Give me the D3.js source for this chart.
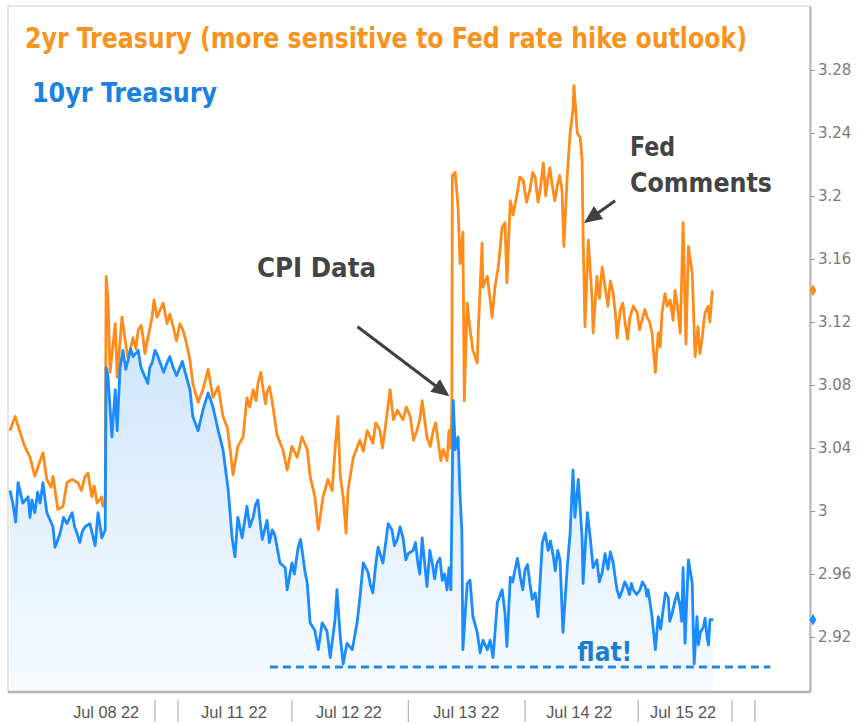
<!DOCTYPE html>
<html>
<head>
<meta charset="utf-8">
<script src="https://cdn.jsdelivr.net/npm/d3@7/dist/d3.min.js"></script>
<style>
  body { margin: 0; background: #fff; }
  svg { display: block; }
</style>
</head>
<body>
<svg id="chart"></svg>
<script>
// [hours since chart start, yield %]
var twoYear = [[0.4,3.051],[1.5,3.060],[2.5,3.050],[3.5,3.041],[4.6,3.034],[5.6,3.022],[6.5,3.030],[7.3,3.037],[8.1,3.020],[9.0,3.015],[9.4,3.022],[10.4,3.001],[11.5,3.003],[12.3,3.018],[13.4,3.020],[14.6,3.018],[15.3,3.013],[16.1,3.022],[16.7,3.024],[17.5,3.009],[18.0,3.016],[18.6,3.005],[19.6,3.009],[19.8,3.003],[20.3,3.005],
  [20.5,3.149],[20.9,3.134],[21.3,3.088],[22.4,3.119],[22.8,3.085],[23.8,3.123],[24.4,3.110],[25.0,3.098],[25.5,3.102],[26.1,3.110],[26.7,3.103],[27.2,3.115],[27.8,3.118],[28.2,3.110],[28.6,3.100],[29.0,3.107],[30.1,3.123],[30.5,3.134],[31.1,3.123],[32.4,3.132],[33.2,3.119],[33.8,3.125],[34.5,3.117],[35.2,3.108],[35.9,3.119],[36.4,3.116],[37.0,3.110],[38.0,3.096],[38.6,3.081],[39.7,3.069],[40.7,3.077],[41.8,3.090],[42.8,3.072],[43.9,3.079],[44.9,3.060],[45.8,3.053],[46.4,3.039],[47.0,3.023],[48.0,3.041],[49.1,3.047],[49.9,3.072],[50.5,3.066],[51.2,3.077],[51.8,3.070],[52.2,3.081],[52.8,3.088],[53.3,3.077],[53.8,3.068],[54.1,3.075],[54.6,3.079],[55.2,3.069],[56.2,3.048],[57.4,3.039],[58.3,3.026],[59.3,3.041],[60.4,3.034],[61.4,3.047],[62.5,3.039],[63.1,3.022],[64.1,3.009],[64.8,2.988],[65.8,3.009],[66.8,3.020],[67.7,3.013],[68.3,3.039],[68.9,3.060],[69.4,3.022],[70.0,3.009],[70.6,2.986],[71.0,3.013],[72.1,3.034],[73.5,3.045],[74.2,3.038],[75.0,3.051],[76.2,3.043],[76.8,3.056],[77.7,3.051],[78.2,3.040],[78.8,3.053],[79.8,3.077],[80.5,3.058],[81.3,3.064],[82.5,3.058],[83.2,3.066],[84.0,3.060],[84.7,3.045],[85.4,3.051],[86.0,3.058],[86.5,3.070],[87.5,3.047],[88.2,3.041],[88.8,3.051],[89.3,3.056],[89.8,3.045],[90.4,3.032],[90.9,3.039],[91.7,3.032],[92.1,3.051],[92.5,3.040],[92.7,3.070],
  [92.8,3.213],[93.4,3.215],[94.0,3.193],[94.4,3.157],[95.0,3.177],[95.3,3.070],[95.9,3.132],[96.5,3.115],[97.1,3.102],[98.0,3.094],[98.2,3.113],[99.0,3.170],[99.2,3.142],[100.1,3.149],[100.7,3.134],[101.1,3.123],[101.7,3.142],[102.4,3.155],[103.2,3.180],[103.8,3.183],[104.2,3.145],[104.9,3.197],[105.5,3.188],[106.3,3.201],[106.9,3.212],[107.6,3.210],[108.3,3.196],[109.0,3.204],[109.6,3.215],[110.1,3.212],[110.7,3.196],[111.2,3.205],[111.8,3.221],[112.3,3.200],[112.8,3.212],[113.2,3.218],[113.6,3.208],[114.2,3.197],[114.7,3.206],[115.2,3.213],[115.7,3.204],[116.1,3.168],[116.8,3.213],[117.4,3.240],[118.0,3.255],[118.2,3.270],[118.9,3.240],[119.5,3.237],[119.9,3.223],[120.1,3.177],[120.5,3.117],[121.2,3.172],[122.0,3.134],[122.2,3.113],[123.0,3.149],[123.5,3.135],[124.1,3.155],[124.7,3.142],[125.3,3.130],[125.8,3.146],[126.4,3.138],[126.9,3.124],[127.2,3.110],[127.9,3.128],[128.4,3.132],[128.9,3.119],[129.4,3.109],[129.9,3.123],[130.6,3.130],[131.4,3.126],[131.9,3.115],[132.4,3.121],[133.0,3.128],[133.5,3.123],[134.0,3.120],[134.5,3.113],[135.2,3.088],[135.8,3.113],[136.2,3.104],[136.6,3.126],[137.2,3.138],[137.7,3.130],[138.3,3.134],[138.9,3.121],[139.3,3.140],[139.8,3.130],[140.4,3.113],[141.0,3.183],[141.6,3.106],[142.1,3.168],[142.9,3.151],[143.5,3.098],[144.1,3.117],[144.5,3.100],[145.0,3.110],[145.3,3.120],[145.6,3.126],[146.2,3.130],[146.6,3.120],[147.1,3.140]]

var tenYear = [[0.4,3.013],[1.0,3.005],[1.6,2.993],[2.1,3.018],[3.1,3.005],[4.2,3.009],[4.6,2.996],[5.0,3.007],[5.6,2.999],[6.2,3.012],[6.7,3.005],[7.3,3.018],[8.1,2.999],[9.4,2.990],[9.8,2.977],[10.2,2.980],[10.9,2.986],[11.6,2.996],[12.3,2.992],[13.4,2.999],[13.9,2.990],[14.4,2.986],[15.0,2.980],[15.5,2.987],[16.1,2.990],[17.1,2.992],[17.8,2.983],[18.2,2.978],[18.8,2.999],[19.6,2.983],[20.3,2.988],
  [20.5,3.091],[20.9,3.085],[21.7,3.047],[22.4,3.077],[22.8,3.051],[23.4,3.091],[24.0,3.102],[24.6,3.090],[25.1,3.096],[25.6,3.103],[26.1,3.098],[27.2,3.102],[27.7,3.092],[28.2,3.088],[29.2,3.081],[29.6,3.091],[30.1,3.094],[30.7,3.102],[31.2,3.099],[31.8,3.094],[32.5,3.088],[33.2,3.094],[33.8,3.098],[34.5,3.091],[35.2,3.086],[35.9,3.091],[36.4,3.095],[37.0,3.088],[38.0,3.077],[38.6,3.060],[39.7,3.051],[40.7,3.064],[41.8,3.075],[42.8,3.066],[43.9,3.051],[44.9,3.039],[46.0,3.013],[46.8,2.983],[47.4,2.971],[48.0,2.996],[48.9,2.983],[49.9,3.003],[50.5,2.990],[51.2,2.996],[51.7,3.004],[52.2,3.007],[52.7,2.992],[53.1,2.982],[54.1,2.994],[54.6,2.980],[55.2,2.988],[55.7,2.985],[56.2,2.977],[56.8,2.967],[57.9,2.964],[58.3,2.950],[59.3,2.967],[59.8,2.960],[60.6,2.977],[61.1,2.982],[61.6,2.971],[62.0,2.962],[62.5,2.954],[63.1,2.929],[64.1,2.924],[64.8,2.912],[65.6,2.929],[66.6,2.924],[67.3,2.907],[68.3,2.931],[68.7,2.950],[69.4,2.920],[70.0,2.903],[70.8,2.916],[71.9,2.912],[72.9,2.929],[73.5,2.945],[74.2,2.967],[75.2,2.961],[75.7,2.953],[76.2,2.948],[76.8,2.966],[77.3,2.977],[78.3,2.967],[78.8,2.978],[79.4,2.992],[80.2,2.988],[80.7,2.978],[81.3,2.982],[81.9,2.990],[82.5,2.983],[83.1,2.969],[83.6,2.973],[84.6,2.975],[85.1,2.980],[85.6,2.967],[86.0,2.960],[86.5,2.983],[87.5,2.952],[88.1,2.975],[88.6,2.967],[89.1,2.957],[89.6,2.967],[90.2,2.970],[90.7,2.956],[91.2,2.960],[91.7,2.950],[92.1,2.964],[92.5,2.950],
  [93.0,3.070],[93.4,3.039],[94.0,3.047],[94.4,3.011],[94.8,2.986],[95.0,2.912],[95.9,2.954],[96.5,2.956],[97.1,2.933],[98.0,2.923],[98.6,2.910],[99.2,2.918],[100.1,2.912],[100.7,2.918],[101.3,2.907],[102.2,2.942],[103.2,2.950],[103.8,2.935],[104.2,2.914],[104.9,2.958],[105.4,2.955],[105.9,2.963],[106.4,2.970],[107.0,2.958],[107.5,2.950],[108.0,2.963],[108.5,2.966],[109.0,2.954],[109.5,2.944],[110.1,2.948],[110.7,2.933],[111.6,2.980],[112.2,2.986],[112.8,2.975],[113.3,2.981],[113.9,2.971],[114.3,2.962],[114.8,2.975],[115.3,2.969],[115.9,2.923],[116.8,2.964],[117.4,2.986],[118.0,3.026],[118.4,2.996],[119.1,3.020],[119.9,2.983],[120.1,2.954],[121.0,2.999],[121.6,2.983],[122.2,2.964],[123.0,2.969],[123.5,2.955],[124.1,2.961],[124.7,2.973],[125.3,2.963],[125.8,2.974],[126.4,2.967],[126.8,2.958],[127.2,2.950],[127.7,2.945],[128.3,2.950],[128.8,2.955],[129.3,2.952],[129.8,2.947],[130.2,2.954],[130.6,2.950],[131.3,2.947],[132.0,2.950],[132.5,2.955],[133.1,2.952],[133.4,2.946],[133.7,2.950],[134.5,2.933],[135.2,2.912],[135.8,2.933],[136.3,2.925],[136.8,2.937],[137.3,2.948],[137.9,2.945],[138.2,2.930],[138.7,2.935],[139.3,2.943],[139.8,2.948],[140.4,2.939],[140.7,2.930],[141.0,2.964],[141.4,2.916],[142.1,2.969],[142.9,2.954],[143.3,2.903],[143.9,2.933],[144.2,2.915],[144.6,2.923],[145.2,2.926],[145.6,2.932],[146.0,2.920],[146.3,2.915],[146.6,2.931],[147.3,2.931]]

var yTicks = [3.28, 3.24, 3.2, 3.16, 3.12, 3.08, 3.04, 3, 2.96, 2.92]
var daySeparators = [30.7, 35.5, 59.3, 83.6, 108.0, 131.6, 151.2, 156.0]
var dayLabels = ["Jul 08 22", "Jul 11 22", "Jul 12 22", "Jul 13 22", "Jul 14 22", "Jul 15 22"]
var dayLabelPos = [20.5, 47.2, 71.2, 95.7, 119.3, 141.0]

var flatLevel = 2.901
var flatSpan = [54.7, 159.2]

var dimensions = {
  width: 858,
  height: 725,
  margin: { top: 6, bottom: 33, right: 48, left: 8 }
}
var plotBottom = dimensions.height - dimensions.margin.bottom
var plotRight = dimensions.width - dimensions.margin.right

var orange = "#ff8c1a"
var blue = "#1a8cff"

var svg = d3.select("#chart")
  .attr("width", dimensions.width)
  .attr("height", dimensions.height)

var xScale = d3.scaleLinear()
  .domain([0, 167.5])
  .range([dimensions.margin.left, plotRight])

var yScale = d3.scaleLinear()
  .domain([2.8851, 3.3206])
  .range([plotBottom, dimensions.margin.top])

var defs = svg.append("defs")
var grad = defs.append("linearGradient")
  .attr("id", "blueFill")
  .attr("gradientUnits", "userSpaceOnUse")
  .attr("x1", 0).attr("x2", 0)
  .attr("y1", yScale(3.10)).attr("y2", plotBottom)
grad.append("stop").attr("offset", 0).attr("stop-color", "#d2e7fc")
grad.append("stop").attr("offset", 1).attr("stop-color", "#f7fbff")

defs.append("marker")
  .attr("id", "arrow")
  .attr("markerUnits", "userSpaceOnUse")
  .attr("markerWidth", 18).attr("markerHeight", 16)
  .attr("refX", 15).attr("refY", 8)
  .attr("orient", "auto")
  .append("path")
  .attr("d", "M0,0 L18,8 L0,16 Z")
  .attr("fill", "#404040")

// plot frame
svg.append("rect")
  .attr("x", dimensions.margin.left)
  .attr("y", dimensions.margin.top)
  .attr("width", plotRight - dimensions.margin.left)
  .attr("height", plotBottom - dimensions.margin.top)
  .attr("fill", "none")
  .attr("stroke", "#cdcdcd")

var area = d3.area()
  .x(d => xScale(d[0]))
  .y0(plotBottom)
  .y1(d => yScale(d[1]))

svg.append("path")
  .datum(tenYear)
  .attr("d", area)
  .attr("fill", "url(#blueFill)")

var line = d3.line()
  .x(d => xScale(d[0]))
  .y(d => yScale(d[1]))

svg.append("path")
  .datum(twoYear)
  .attr("d", line)
  .attr("fill", "none")
  .attr("stroke", orange)
  .attr("stroke-width", 2.8)
  .attr("stroke-linejoin", "round")

svg.append("path")
  .datum(tenYear)
  .attr("d", line)
  .attr("fill", "none")
  .attr("stroke", blue)
  .attr("stroke-width", 2.8)
  .attr("stroke-linejoin", "round")

// "flat" reference line
svg.append("line")
  .attr("x1", xScale(flatSpan[0]))
  .attr("x2", xScale(flatSpan[1]))
  .attr("y1", yScale(flatLevel))
  .attr("y2", yScale(flatLevel))
  .attr("stroke", "#1e88e5")
  .attr("stroke-width", 3)
  .attr("stroke-dasharray", "8,5")

// bottom edge shadow
svg.append("line")
  .attr("x1", dimensions.margin.left).attr("x2", plotRight)
  .attr("y1", plotBottom).attr("y2", plotBottom)
  .attr("stroke", "#b4b4b4")
  .attr("stroke-width", 2.5)

// right axis
var yAxisGen = d3.axisRight(yScale)
  .tickValues(yTicks)
  .tickSize(5)
  .tickSizeOuter(0)
  .tickFormat(d3.format(""))

var yAxis = svg.append("g")
  .call(yAxisGen)
  .attr("transform", `translate(${plotRight},0)`)
yAxis.select(".domain").attr("stroke", "#b5b5b5").attr("stroke-width", 2)
yAxis.selectAll(".tick line").attr("stroke", "#999")
yAxis.selectAll(".tick text")
  .attr("x", 8)
  .attr("fill", "#7a7a7a")
  .style("font-family", "'DejaVu Sans', sans-serif")
  .style("font-size", "15px")

// last value markers
var lastValues = [[twoYear[twoYear.length - 1][1], orange], [tenYear[tenYear.length - 1][1], blue]]
svg.selectAll(".last")
  .data(lastValues)
  .enter()
  .append("path")
  .attr("d", d3.symbol(d3.symbolDiamond, 40))
  .attr("transform", d => `translate(${plotRight + 3},${yScale(d[0])})`)
  .attr("fill", d => d[1])

// day axis at the bottom
svg.append("g")
  .selectAll("line")
  .data(daySeparators)
  .enter()
  .append("line")
  .attr("x1", d => xScale(d)).attr("x2", d => xScale(d))
  .attr("y1", plotBottom + 8).attr("y2", plotBottom + 30)
  .attr("stroke", "#a0a0a0")

svg.append("g")
  .selectAll("text")
  .data(dayLabels)
  .enter()
  .append("text")
  .attr("x", (d, i) => xScale(dayLabelPos[i]))
  .attr("y", plotBottom + 26)
  .attr("text-anchor", "middle")
  .attr("textLength", 66)
  .attr("lengthAdjust", "spacingAndGlyphs")
  .attr("fill", "#555")
  .style("font-family", "'Liberation Sans Narrow', 'Liberation Sans', sans-serif")
  .style("font-size", "16px")
  .text(d => d)

function addText(txt, x, y, size, color, len) {
  return svg.append("text")
    .attr("x", x).attr("y", y)
    .attr("textLength", len)
    .attr("lengthAdjust", "spacingAndGlyphs")
    .attr("fill", color)
    .style("font-family", "'DejaVu Sans Condensed', 'DejaVu Sans', sans-serif")
    .style("font-weight", "bold")
    .style("font-size", size + "px")
    .text(txt)
}

addText("2yr Treasury (more sensitive to Fed rate hike outlook)", 25, 48, 29, "#f7941d", 722)
addText("10yr Treasury", 32, 102, 26, "#1a82e0", 185)
addText("CPI Data", 257, 277, 27, "#444", 119)
addText("Fed", 630, 156, 27, "#444", 45)
addText("Comments", 630, 192, 27, "#444", 142)
addText("flat!", xScale(118.9), yScale(2.9048), 26, "#1a7fd4", 55)

// annotation arrows: [from hour, from value, to hour, to value]
var arrows = [[73.0, 3.117, 91.7, 3.074], [126.8, 3.197, 120.8, 3.184]]
svg.selectAll(".arrow")
  .data(arrows)
  .enter()
  .append("line")
  .attr("x1", d => xScale(d[0])).attr("y1", d => yScale(d[1]))
  .attr("x2", d => xScale(d[2])).attr("y2", d => yScale(d[3]))
  .attr("stroke", "#404040")
  .attr("stroke-width", 3)
  .attr("marker-end", "url(#arrow)")
</script>
</body>
</html>
